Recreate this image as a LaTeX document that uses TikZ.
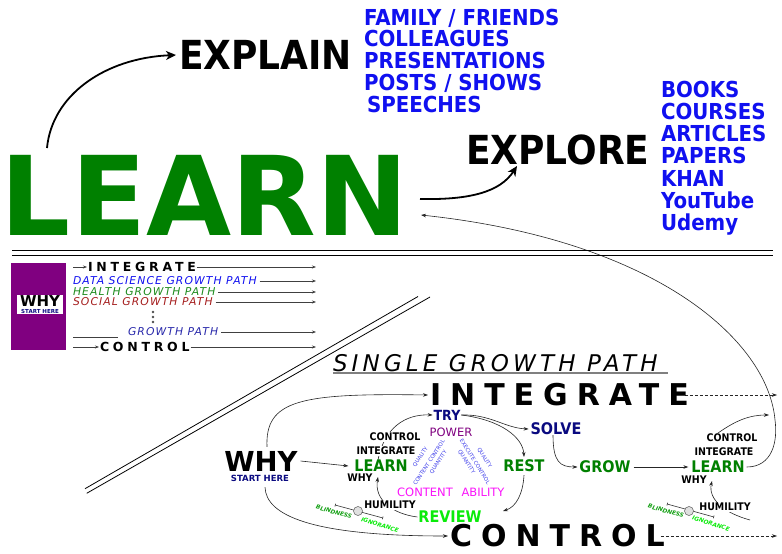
\documentclass[tikz,border=0pt]{standalone}
\usepackage{fontspec}
\setmainfont{DejaVu Sans}
\newfontfamily\cond{DejaVu Sans}[FakeStretch=0.9]
\usetikzlibrary{arrows.meta}
\pgfdeclarelayer{bg}
\pgfdeclarelayer{back}
\pgfsetlayers{bg,back,main}
\definecolor{lgreen}{RGB}{0,128,0}
\definecolor{lblue}{RGB}{16,16,240}
\definecolor{navy}{RGB}{10,10,128}
\definecolor{lpurple}{RGB}{128,0,128}
\definecolor{lmag}{RGB}{250,20,250}
\definecolor{lime}{RGB}{10,235,10}
\definecolor{brn}{RGB}{165,30,30}
\definecolor{hgreen}{RGB}{30,140,30}
\definecolor{sblue}{RGB}{60,60,235}
\definecolor{gblue}{RGB}{40,40,170}
\definecolor{bgreen}{RGB}{20,160,20}
\newcommand{\fs}[1]{\fontsize{#1}{#1}\selectfont}
\tikzset{
  bigarrow/.style={line width=1.8pt, -{Stealth[length=10pt,width=9pt,inset=3pt]}},
  conn/.style={line width=0.6pt, draw=black!85, -{Stealth[length=5pt,width=3.5pt]}},
  dashline/.style={line width=0.6pt, draw=black!85, dash pattern=on 3pt off 2pt, -{Stealth[length=5pt,width=3.5pt]}},
  plainline/.style={line width=0.6pt, draw=black!75},
  panelarrow/.style={line width=0.6pt, draw=black!75, -{Stealth[length=4pt,width=3pt]}},
  bluelist/.style={anchor=base west, text=lblue, font=\cond\bfseries\fs{22}},
  lab/.style={font=\cond\bfseries\fs{16}, text=lgreen},
  smlab/.style={font=\cond\bfseries\fs{10.5}},
  knock/.style={fill=white, inner sep=0.6pt},
  tinylab/.style={font=\fs{5.3}, text=sblue},
  ptext/.style={anchor=west, font={\itshape\fs{10.8}\addfontfeature{LetterSpace=10}}},
}
\begin{document}
\begin{tikzpicture}[x=1pt,y=-1pt, every node/.style={inner sep=0pt, outer sep=0pt}]
\begin{pgfonlayer}{bg}
\fill[white] (0,0) rectangle (782,554);
\end{pgfonlayer}
\useasboundingbox (0,0) rectangle (782,554);

% ---------------- TOP ----------------
\node[anchor=base west, font=\bfseries\fs{110}, text=lgreen] (learnbig) at (1,235) {LEARN};
\node[anchor=west, font=\cond\bfseries\fs{40}] (explain) at (179,55) {EXPLAIN};
\node[anchor=west, font=\cond\bfseries\fs{40}] (explore) at (466,150) {EXPLORE};
\node[bluelist] (e1) at (364,25) {FAMILY / FRIENDS};
\node[bluelist] (e2) at (364,46) {COLLEAGUES};
\node[bluelist] (e3) at (364,68) {PRESENTATIONS};
\node[bluelist] (e4) at (364,90) {POSTS / SHOWS};
\node[bluelist] (e5) at (367,112) {SPEECHES};
\node[bluelist] (r1) at (661,97) {BOOKS};
\node[bluelist] (r2) at (661,119) {COURSES};
\node[bluelist] (r3) at (661,141) {ARTICLES};
\node[bluelist] (r4) at (661,163) {PAPERS};
\node[bluelist] (r5) at (661,186) {KHAN};
\node[bluelist] (r6) at (661,208) {YouTube};
\node[bluelist] (r7) at (661,230) {Udemy};
\coordinate (lt) at (47,148);
\coordinate (lr) at (420,199);
\coordinate (ex) at (517,166);
\coordinate (lb) at (421,215);
\draw[bigarrow] (lt) .. controls (52,95) and (105,58) .. ([xshift=-3pt]explain.west);
\draw[bigarrow] (lr) .. controls (470,200) and (500,192) .. (ex);

% double rule
\draw[line width=1.3pt] (12,250.5) -- (773,250.5);
\draw[line width=1.3pt] (12,255.5) -- (773,255.5);

% ---------------- PANEL ----------------
\node[fill=lpurple, minimum width=55pt, minimum height=87pt, anchor=north west] (whybox) at (11,263) {};
\node[fill=white, minimum width=46pt, minimum height=19pt] (whyw) at (40,304.5) {};
\node[font=\bfseries\fs{15}] (whys) at (40,301.5) {WHY};
\node[font=\bfseries\fs{5.5}, text=navy] (starts) at (40,311) {START HERE};

\node[anchor=west, font={\bfseries\fs{12.5}\addfontfeature{LetterSpace=30}}] (pint) at (88,267) {INTEGRATE};
\node[ptext, text=lblue] (pds) at (73,281) {DATA SCIENCE GROWTH PATH};
\node[ptext, text=hgreen] (phe) at (73,292) {HEALTH GROWTH PATH};
\node[ptext, text=brn] (pso) at (73,302) {SOCIAL GROWTH PATH};
\node[ptext, text=gblue] (pgp) at (128,332) {GROWTH PATH};
\node[anchor=west, font={\bfseries\fs{12.5}\addfontfeature{LetterSpace=30}}] (pcon) at (100,347) {CONTROL};
\coordinate (pa) at (73,267);
\coordinate (pb) at (73,347);
\coordinate (pc) at (73,337);
\coordinate (pd) at (118,337);
\draw[panelarrow] (pa) -- ([xshift=-1pt]pint.west);
\draw[panelarrow] ([xshift=1pt]pint.east) -- (316,267);
\draw[panelarrow] ([xshift=3pt]pds.east) -- (316,281);
\draw[panelarrow] ([xshift=3pt]phe.east) -- (316,292);
\draw[panelarrow] ([xshift=3pt]pso.east) -- (316,302);
\draw[panelarrow] ([xshift=3pt]pgp.east) -- (316,332);
\draw[panelarrow] (pb) -- ([xshift=-1pt]pcon.west);
\draw[panelarrow] ([xshift=1pt]pcon.east) -- (316,347);
\draw[plainline] (pc) -- (pd);
\foreach \yy in {312,317,322} \fill[black!70] (153,\yy) circle (1.4pt);

% diagonal double line
\draw[line width=0.8pt] (85,488.7) -- (418,296.5);
\draw[line width=0.8pt] (86.7,493.3) -- (430,297);

% ---------------- SINGLE GROWTH PATH ----------------
\node[anchor=west, font={\itshape\fs{23}\addfontfeature{LetterSpace=18}}] (sgp) at (333,363) {SINGLE GROWTH PATH};
\draw[black!50, line width=1.5pt] (333,373) -- (668,373);
\node[anchor=west, font={\bfseries\fs{30}\addfontfeature{LetterSpace=30}}] (intB) at (430,395) {INTEGRATE};
\node[anchor=west, font={\bfseries\fs{30}\addfontfeature{LetterSpace=30}}] (conB) at (450,536) {CONTROL};

\node[font=\bfseries\fs{27.5}] (whyb) at (261,461) {WHY};
\node[font=\bfseries\fs{8.5}, text=navy] (sh) at (260,478) {START HERE};

\node[lab] (learn1) at (381,466) {LEARN};
\node[smlab, knock] (ctl1) at (395,437) {CONTROL};
\node[smlab, knock] (int1) at (386,451) {INTEGRATE};
\node[smlab] (why1) at (360,478) {WHY};
\node[smlab, knock] (hum1) at (390,505) {HUMILITY};
\node[font=\cond\bfseries\fs{14}, text=navy] (try) at (447,415) {TRY};
\node[font=\fs{11.5}, text=lpurple] (power) at (451,432) {POWER};
\node[font=\cond\bfseries\fs{16}, text=navy] (solve) at (556,429) {SOLVE};
\node[lab] (rest) at (524,466) {REST};
\node[lab] (grow) at (605,467) {GROW};
\node[lab] (learn2) at (718,467) {LEARN};
\node[font=\fs{11.5}, text=lmag] (content) at (425,492) {CONTENT};
\node[font=\fs{11.5}, text=lmag] (ability) at (483,492) {ABILITY};
\node[lab, text=lime] (review) at (450,517) {REVIEW};
\node[smlab, knock] (ctl2) at (732,438) {CONTROL};
\node[smlab, knock] (int2) at (724,452) {INTEGRATE};
\node[smlab] (why2) at (694,480) {WHY};
\node[smlab, knock] (hum2) at (725,507) {HUMILITY};

% tiny rotated labels
\node[tinylab, rotate=57] (q1) at (420.5,457) {QUALITY};
\node[tinylab, rotate=57] (cc) at (429,462.5) {CONTENT CONTROL};
\node[tinylab, rotate=57] (qn1) at (438.5,462) {QUANTITY};
\node[tinylab, rotate=-58] (qn2) at (466.5,462) {QUANTITY};
\node[tinylab, rotate=-58] (ec) at (475,461.7) {EXECUTE CONTROL};
\node[tinylab, rotate=-58] (q2) at (484.5,458) {QUALITY};

% balances
\node[circle, draw=black!65, fill=black!12, line width=0.5pt, minimum size=9pt] (bal1) at (358,511) {};
\node[circle, draw=black!65, fill=black!12, line width=0.5pt, minimum size=9pt] (bal2) at (689,511) {};
\coordinate (b1a) at (335,505);
\coordinate (b1b) at (383,518);
\coordinate (b2a) at (667,504);
\coordinate (b2b) at (714,517);
\node[font={\bfseries\itshape\fs{5.8}}, text=bgreen, rotate=-16] (bl1) at (334,512) {BLINDNESS};
\node[font={\bfseries\itshape\fs{5.8}}, text=lime, rotate=-18] (ig1) at (380,525) {IGNORANCE};
\node[font={\bfseries\itshape\fs{5.8}}, text=bgreen, rotate=-16] (bl2) at (666,511) {BLINDNESS};
\node[font={\bfseries\itshape\fs{5.8}}, text=lime, rotate=-18] (ig2) at (711,523.5) {IGNORANCE};

\coordinate (revR) at (503,511);
\coordinate (l1b) at (378,477);
\coordinate (l2up) at (769,415);
\coordinate (l2b) at (712,481);
\coordinate (h2s) at (750,520);

\begin{pgfonlayer}{back}
\draw[line width=0.6pt, black!80, {Bar[width=3pt]}-{Bar[width=3pt]}] (b1a) -- (b1b);
\draw[line width=0.6pt, black!80, {Bar[width=3pt]}-{Bar[width=3pt]}] (b2a) -- (b2b);
\draw[conn] ([xshift=6pt,yshift=4pt]whyb.north) .. controls (265,400) and (300,393) .. ([xshift=-2pt]intB.west);
\draw[conn] ([xshift=5pt,yshift=-6pt]sh.south) .. controls (266,515) and (310,536) .. ([xshift=-2pt]conB.west);
\draw[conn] ([xshift=3pt]whyb.east) -- ([xshift=-6pt]learn1.west);
\draw[conn] ([xshift=-3pt]learn1.north) .. controls (384,428) and (405,414) .. ([xshift=-1pt]try.west);
\draw[conn] ([xshift=1pt]try.east) .. controls (490,414) and (505,428) .. ([xshift=-2pt]solve.west);
\draw[conn] ([xshift=1pt]try.east) .. controls (502,420) and (523,438) .. ([yshift=3pt]rest.north);
\draw[conn] ([yshift=-3pt]rest.south) .. controls (523,494) and (516,507) .. (revR);
\draw[conn] ([xshift=-1pt]review.west) .. controls (393,514) and (374,500) .. (l1b);
\draw[conn] ([xshift=-3pt]solve.south) .. controls (553,462) and (560,467) .. ([xshift=-2pt]grow.west);
\draw[conn] ([xshift=3pt]grow.east) -- ([xshift=-3pt]learn2.west);
\draw[conn] ([xshift=10pt,yshift=-1pt]ctl2.north west) .. controls (736,420) and (750,415) .. (l2up);
\draw[conn] (h2s) .. controls (724,513) and (708,499) .. (l2b);
\draw[conn] ([xshift=2pt]learn2.east) .. controls (772,467) and (778,442) .. (775,420) .. controls (768,340) and (655,240) .. (lb);
\draw[dashline] ([xshift=-4pt]intB.east) -- (777,395);
\draw[dashline] ([xshift=-4pt]conB.east) -- (777,536);
\end{pgfonlayer}
\end{tikzpicture}
\end{document}
